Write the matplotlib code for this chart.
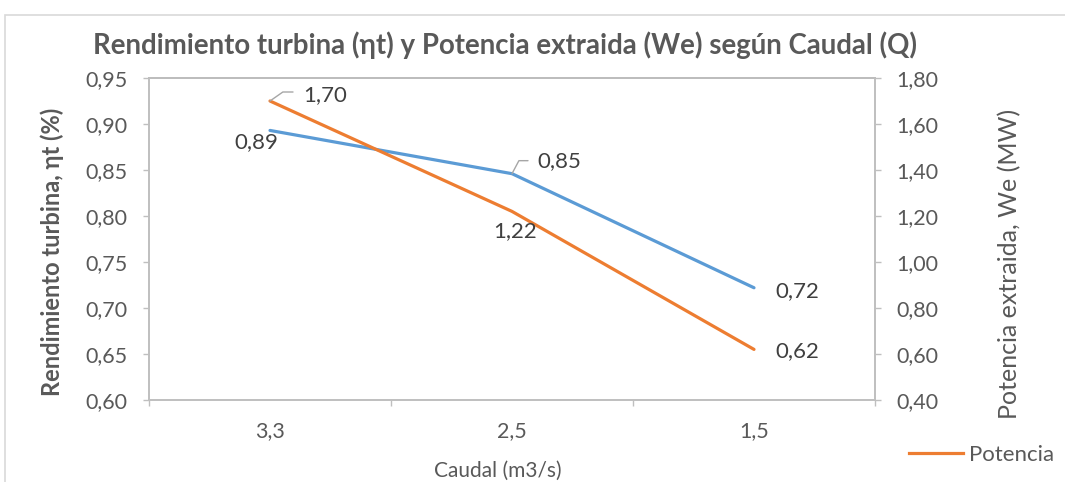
import matplotlib
matplotlib.use("Agg")
import matplotlib.pyplot as plt
from matplotlib.lines import Line2D
from matplotlib.patches import Rectangle

categories = ["3,3", "2,5", "1,5"]
rendimiento = [0.893, 0.846, 0.722]
potencia = [1.70, 1.22, 0.62]
rend_labels = ["0,89", "0,85", "0,72"]
pot_labels = ["1,70", "1,22", "0,62"]
left_ticks = [0.60, 0.65, 0.70, 0.75, 0.80, 0.85, 0.90, 0.95]
right_ticks = [0.40, 0.60, 0.80, 1.00, 1.20, 1.40, 1.60, 1.80]

BLUE = "#5B9BD5"
ORANGE = "#ED7D31"
GRAY_TXT = "#595959"
AX_GRAY = "#BFBFBF"
plt.rcParams["font.family"] = ["Lato", "DejaVu Sans"]

W, H = 1065, 482
fig = plt.figure(figsize=(W / 100, H / 100), dpi=100)
fig.patches.append(Rectangle((5 / W, -0.1), 1.2, 1 - 15 / H + 0.1, transform=fig.transFigure,
                             fill=False, edgecolor="#D9D9D9", linewidth=1.2))

ax = fig.add_axes([149 / W, 1 - 400 / H, (875 - 149) / W, (400 - 78) / H])
ax2 = ax.twinx()

x = list(range(len(categories)))
ax.plot(x, rendimiento, color=BLUE, lw=2.3, solid_capstyle="round", zorder=3)
ax2.plot(x, potencia, color=ORANGE, lw=2.3, solid_capstyle="round", zorder=3)

ax.set_xlim(-0.5, len(categories) - 0.5)
ax.set_ylim(0.60, 0.95)
ax2.set_ylim(0.40, 1.80)
ax.set_xticks(x)
ax.set_xticks([i - 0.5 for i in range(len(categories) + 1)], minor=True)
ax.tick_params(axis="x", which="major", length=0, pad=15, labelsize=15.5, labelcolor=GRAY_TXT)
ax.tick_params(axis="x", which="minor", length=4.5, color=AX_GRAY, width=1)
ax.set_xticklabels(categories, fontsize=15.5, color=GRAY_TXT)

ax.set_yticks(left_ticks)
ax2.set_yticks(right_ticks)
for a in (ax, ax2):
    a.tick_params(axis="y", length=4.5, color=AX_GRAY, width=1, labelsize=15.5, labelcolor=GRAY_TXT, pad=11)
    for s in a.spines.values():
        s.set_color(AX_GRAY)
        s.set_linewidth(1.2)
ax.set_yticklabels([f"{v:.2f}".replace(".", ",") for v in left_ticks], fontsize=15.5, color=GRAY_TXT)
ax2.set_yticklabels([f"{v:.2f}".replace(".", ",") for v in right_ticks], fontsize=15.5, color=GRAY_TXT)
ax.spines["top"].set_color("#A6A6A6")

ax.set_xlabel("Caudal (m3/s)", fontsize=15, color=GRAY_TXT, va="center")
ax.xaxis.set_label_coords(0.48, -0.22)
ax.set_ylabel("Rendimiento turbina, ηt (%)", fontsize=17, fontweight="bold", color=GRAY_TXT, va="center")
ax.yaxis.set_label_coords(-0.134, 0.46)
ax2.set_ylabel("Potencia extraida, We (MW)", fontsize=18, color=GRAY_TXT, va="center")
ax2.yaxis.set_label_coords(1.186, 0.422)

fig.text(0.474, 1 - 45 / H, "Rendimiento turbina (ηt) y Potencia extraida (We) según Caudal (Q)",
         ha="center", va="center", fontsize=19.9, fontweight="bold", color=GRAY_TXT)

lbl = dict(fontsize=16, color="#404040")
# Rendimiento labels
ax.annotate(rend_labels[0], (x[0], rendimiento[0]), xytext=(-14, -12), textcoords="offset pixels",
            ha="center", va="center", **lbl)
ax.annotate("", (x[1], rendimiento[1]), xytext=(16, 13), textcoords="offset pixels",
            arrowprops=dict(arrowstyle="-", color="#A6A6A6", lw=1,
                            connectionstyle="angle,angleA=0,angleB=62,rad=0", shrinkA=0, shrinkB=0))
ax.annotate(rend_labels[1], (x[1], rendimiento[1]), xytext=(25, 13), textcoords="offset pixels",
            ha="left", va="center", **lbl)
ax.annotate(rend_labels[2], (x[2], rendimiento[2]), xytext=(21, -3), textcoords="offset pixels",
            ha="left", va="center", **lbl)
# Potencia labels
ax2.annotate("", (x[0], potencia[0]), xytext=(23, 9), textcoords="offset pixels",
             arrowprops=dict(arrowstyle="-", color="#A6A6A6", lw=1,
                             connectionstyle="angle,angleA=0,angleB=35,rad=0", shrinkA=0, shrinkB=0))
ax2.annotate(pot_labels[0], (x[0], potencia[0]), xytext=(33, 6), textcoords="offset pixels",
             ha="left", va="center", **lbl)
ax2.annotate(pot_labels[1], (x[1], potencia[1]), xytext=(3, -20), textcoords="offset pixels",
             ha="center", va="center", **lbl)
ax2.annotate(pot_labels[2], (x[2], potencia[2]), xytext=(21, -2), textcoords="offset pixels",
             ha="left", va="center", **lbl)

handle = Line2D([], [], color=ORANGE, lw=2.3)
fig.legend(handles=[handle], labels=["Potencia"], loc="center left",
           bbox_to_anchor=(909 / W, 1 - 455 / H), frameon=False, fontsize=16,
           handlelength=2.43, handletextpad=0.27, borderpad=0, borderaxespad=0,
           labelcolor=GRAY_TXT)

fig.savefig("out.png", dpi=100)
